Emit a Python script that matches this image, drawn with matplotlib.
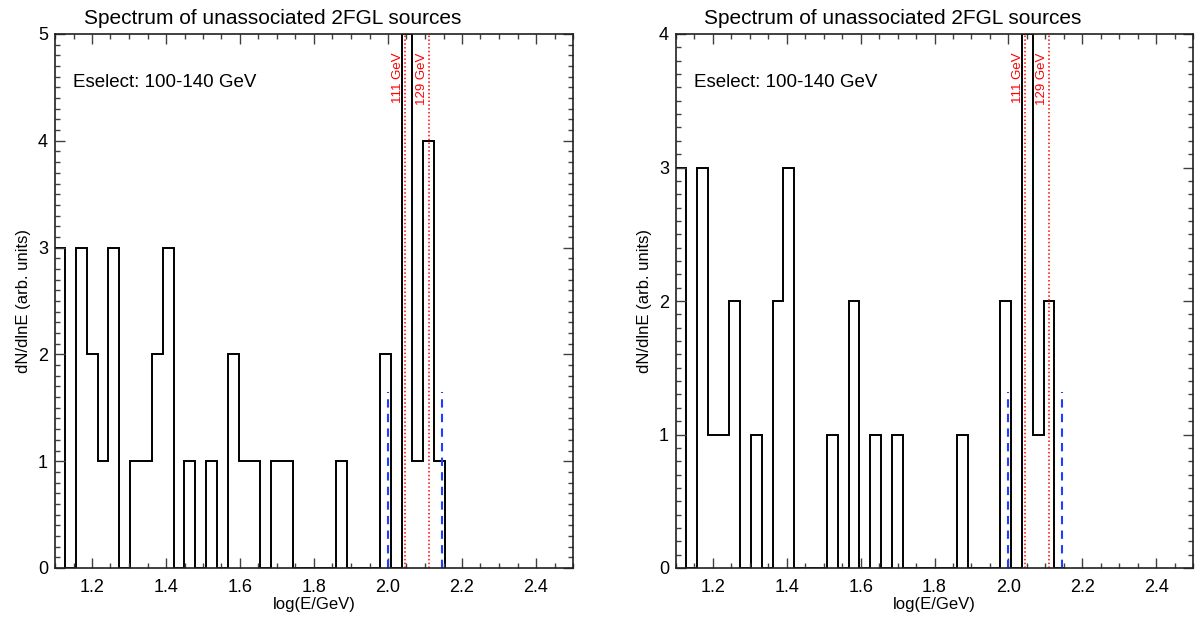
import matplotlib
matplotlib.use('Agg')
import matplotlib.pyplot as plt
import numpy as np
from matplotlib.ticker import MultipleLocator

plt.rcParams['font.family'] = ['Liberation Sans', 'DejaVu Sans']

# Histogram binning in log10(E/GeV)
bin_start = 1.0977
bin_width = 0.02934

# Counts per bin (left panel / right panel)
counts_left = [3, 0, 3, 2, 1, 3, 0, 1, 1, 2, 3, 0, 1, 0, 1, 0, 2, 1,
               1, 0, 1, 1, 0, 0, 0, 0, 1, 0, 0, 0, 2, 0, 5, 1, 4, 1]
counts_right = [3, 0, 3, 1, 1, 2, 0, 1, 0, 2, 3, 0, 0, 0, 1, 0, 2, 0,
                1, 0, 1, 0, 0, 0, 0, 0, 1, 0, 0, 0, 2, 0, 4, 1, 2, 0]
ymax_panels = [5, 4]

# Line energies (GeV) and selection window
line_energies = [111, 129]
line_labels = ['111 GeV', '129 GeV']
eselect = [100, 140]

title = 'Spectrum of unassociated 2FGL sources'
xlabel = 'log(E/GeV)'
ylabel = 'dN/dlnE (arb. units)'
note = 'Eselect: 100-140 GeV'

fig = plt.figure(figsize=(12.04, 6.25), dpi=100)
axes = [fig.add_axes([55 / 1204, 57 / 625, 518 / 1204, 534 / 625]),
        fig.add_axes([676 / 1204, 57 / 625, 517 / 1204, 534 / 625])]

for ax, counts, ymax in zip(axes, [counts_left, counts_right], ymax_panels):
    edges = bin_start + bin_width * np.arange(len(counts) + 1)
    ax.stairs(counts, edges, baseline=0, color='black', lw=1.4)

    # red dotted lines for the 111 / 129 GeV lines
    for e, lab in zip(line_energies, line_labels):
        x = np.log10(e)
        ax.axvline(x, color='#ff0000', ls=(0, (1, 1.5)), lw=1.1)
        ax.text(x - 0.002, 0.965, lab, transform=ax.get_xaxis_transform(),
                rotation=90, ha='right', va='top', color='#ff0000', fontsize=9.5)

    # blue dashed selection window
    for e in eselect:
        ax.axvline(np.log10(e), ymin=0, ymax=0.33, color='#1f3fff',
                   ls=(0, (4, 3)), lw=1.5)

    ax.text(0.035, 0.91, note, transform=ax.transAxes, fontsize=13.5,
            ha='left', va='center')

    ax.set_xlim(1.1, 2.5)
    ax.set_ylim(0, ymax)
    ax.xaxis.set_major_locator(MultipleLocator(0.2))
    ax.xaxis.set_minor_locator(MultipleLocator(0.05))
    ax.yaxis.set_major_locator(MultipleLocator(1))
    ax.yaxis.set_minor_locator(MultipleLocator(0.1))
    ax.tick_params(which='both', direction='in', top=True, right=True,
                   color='#404040', width=1)
    ax.tick_params(which='major', length=7.5, labelsize=13)
    ax.tick_params(which='minor', length=3.8)
    ax.tick_params(axis='x', which='major', pad=8)
    ax.tick_params(axis='y', which='major', pad=5)
    for s in ax.spines.values():
        s.set_linewidth(1.2)
        s.set_color('#202020')

    # title sits a bit left of the axes centre, as in the original
    ax.set_title(title, fontsize=15, pad=7, x=0.42)
    ax.set_xlabel(xlabel, fontsize=12, labelpad=1)
    ax.set_ylabel(ylabel, fontsize=12, labelpad=5)

fig.savefig('out.png', dpi=100)
